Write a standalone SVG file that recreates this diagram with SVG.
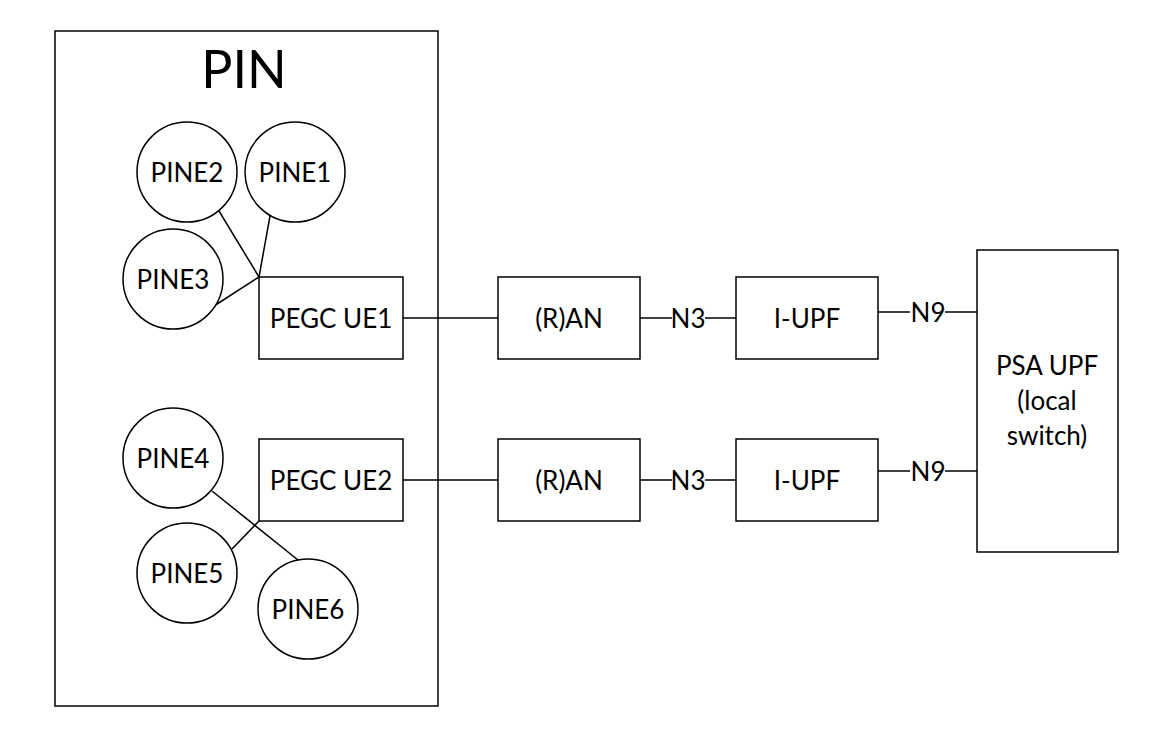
<svg xmlns="http://www.w3.org/2000/svg" width="1170" height="747" viewBox="0 0 1170 747">
<style>
rect,circle{fill:#fff;stroke:#000;stroke-width:1.5}
line{stroke:#000;stroke-width:1.5}
text{font-family:Lato,"Liberation Sans",sans-serif;font-size:26px;text-anchor:middle;dominant-baseline:central;fill:#000}
</style>
<rect width="1170" height="747" style="stroke:none"/>
<g id="pin"><rect x="55" y="31" width="383" height="675"/><text x="244" y="68" style="font-size:52px">PIN</text></g>
<g id="connectors">
<line x1="219" y1="211" x2="259" y2="277"/>
<line x1="270" y1="216" x2="259" y2="277"/>
<line x1="214" y1="306" x2="259" y2="277"/>
<line x1="212" y1="491" x2="298" y2="560"/>
<line x1="232" y1="549" x2="259" y2="521"/>
<line x1="403" y1="318" x2="498" y2="318"/>
<line x1="403" y1="480" x2="498" y2="480"/>
<line x1="640" y1="318" x2="672" y2="318"/><line x1="705" y1="318" x2="736" y2="318"/>
<line x1="640" y1="480" x2="672" y2="480"/><line x1="705" y1="480" x2="736" y2="480"/>
<line x1="878" y1="312" x2="910" y2="312"/><line x1="945" y1="312" x2="977" y2="312"/>
<line x1="878" y1="471" x2="910" y2="471"/><line x1="945" y1="471" x2="977" y2="471"/>
<text x="688" y="318">N3</text><text x="688" y="480">N3</text>
<text x="928" y="312">N9</text><text x="928" y="471">N9</text>
</g>
<g id="pine1"><circle cx="295" cy="172" r="50"/><text x="295" y="172">PINE1</text></g>
<g id="pine2"><circle cx="187" cy="172" r="50"/><text x="187" y="172">PINE2</text></g>
<g id="pine3"><circle cx="173" cy="279" r="50"/><text x="173" y="279">PINE3</text></g>
<g id="pine4"><circle cx="173" cy="458" r="50"/><text x="173" y="458">PINE4</text></g>
<g id="pine5"><circle cx="187" cy="573" r="50"/><text x="187" y="573">PINE5</text></g>
<g id="pine6"><circle cx="308" cy="609" r="50"/><text x="308" y="609">PINE6</text></g>
<g id="pegc1"><rect x="259" y="277" width="144" height="82"/><text x="331" y="318">PEGC UE1</text></g>
<g id="pegc2"><rect x="259" y="439" width="144" height="82"/><text x="331" y="480">PEGC UE2</text></g>
<g id="ran1"><rect x="498" y="277" width="142" height="82"/><text x="569" y="318">(R)AN</text></g>
<g id="ran2"><rect x="498" y="439" width="142" height="82"/><text x="569" y="480">(R)AN</text></g>
<g id="iupf1"><rect x="736" y="277" width="142" height="82"/><text x="807" y="318">I-UPF</text></g>
<g id="iupf2"><rect x="736" y="439" width="142" height="82"/><text x="807" y="480">I-UPF</text></g>
<g id="psa"><rect x="977" y="250" width="141" height="302"/><text x="1047" y="365">PSA UPF</text><text x="1047" y="400">(local</text><text x="1047" y="435">switch)</text></g>
</svg>
